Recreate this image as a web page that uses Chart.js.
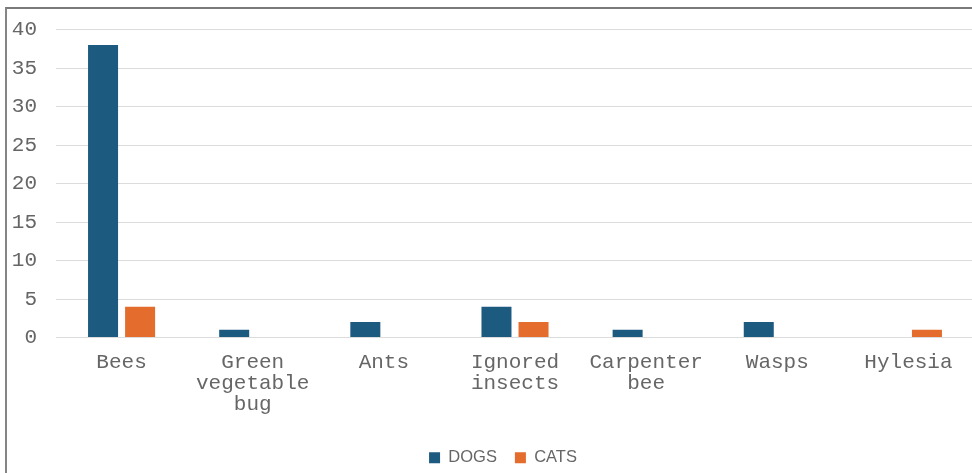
<!DOCTYPE html>
<html>
<head>
<meta charset="utf-8">
<script src="https://cdn.jsdelivr.net/npm/chart.js@4.4.0/dist/chart.umd.min.js"></script>
<style>
  html, body { margin: 0; padding: 0; background: #fff; overflow: hidden; }
  #wrap { position: absolute; left: 0; top: 0; width: 980px; height: 476px; }
  #frame {
    position: absolute; left: 5px; top: 7px; width: 1000px; height: 600px;
    border-left: 2px solid #858585; border-top: 2px solid #7a7a7a;
    pointer-events: none;
  }
</style>
</head>
<body>
<div id="wrap"><canvas id="insects" width="980" height="476"></canvas></div>
<div id="frame"></div>
<script>
const categories = [
  'Bees',
  ['Green', 'vegetable', 'bug'],
  'Ants',
  ['Ignored', 'insects'],
  ['Carpenter', 'bee'],
  'Wasps',
  'Hylesia'
];
const dogs = [38, 1, 2, 4, 1, 2, 0];
const cats = [4, 0, 0, 2, 0, 0, 1];
const yTicks = { min: 0, max: 40, step: 5 };

const mono = { family: '"Liberation Mono", "DejaVu Sans Mono", monospace', size: 21, lineHeight: 1.0 };

// nudge the legend a little to the right of the canvas centre
const legendShift = {
  id: 'legendShift',
  afterLayout(chart) {
    chart.legend.left += 16;
    chart.legend.right += 16;
  }
};

let ctx = document.getElementById('insects').getContext('2d');
let chart = new Chart(ctx, {
  type: 'bar',
  data: {
    labels: categories,
    datasets: [
      { label: 'DOGS', data: dogs, backgroundColor: '#1c5a80' },
      { label: 'CATS', data: cats, backgroundColor: '#e46c2c' }
    ]
  },
  options: {
    responsive: false,
    animation: false,
    categoryPercentage: 0.565,
    barPercentage: 0.81,
    layout: { padding: { top: 19, right: 6, left: 0, bottom: 0 } },
    plugins: {
      tooltip: { enabled: false },
      legend: {
        position: 'bottom',
        labels: {
          boxWidth: 11,
          boxHeight: 11,
          padding: 18,
          color: '#666',
          font: { family: '"Liberation Sans", Arial, sans-serif', size: 16.5 }
        }
      }
    },
    scales: {
      x: {
        grid: { display: false },
        border: { display: false },
        ticks: { color: '#666', font: mono, padding: 6, maxRotation: 0, autoSkip: false },
        // leave room between the category labels and the legend
        afterFit: function (scale) { scale.height = 94; }
      },
      y: {
        min: yTicks.min,
        max: yTicks.max,
        grid: { color: '#dcdcdc', drawTicks: false },
        border: { display: false },
        ticks: { stepSize: yTicks.step, color: '#666', font: mono, padding: 19 },
        afterFit: function (scale) { scale.width = 56; }
      }
    }
  },
  plugins: [legendShift]
});
</script>
</body>
</html>
